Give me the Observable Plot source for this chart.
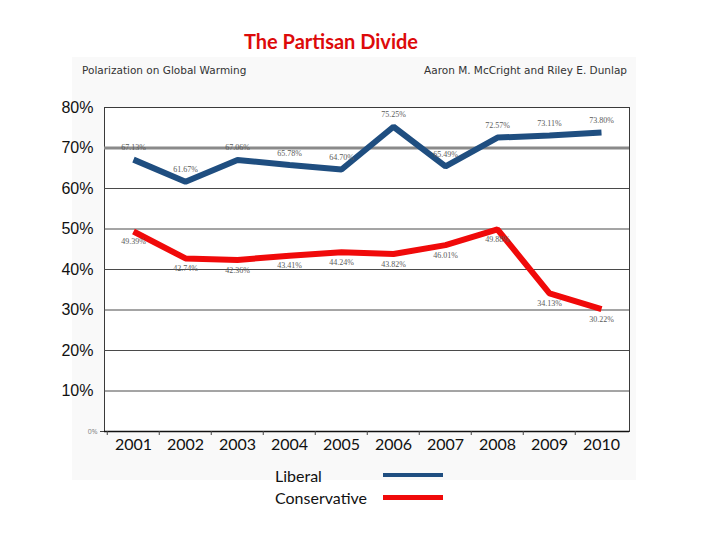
<!DOCTYPE html>
<html>
<head>
<meta charset="utf-8">
<script src="https://cdn.jsdelivr.net/npm/d3@7"></script>
<script src="https://cdn.jsdelivr.net/npm/@observablehq/plot@0.6"></script>
<style>
  html, body { margin: 0; padding: 0; background: #fff; }
  #slide { position: relative; width: 720px; height: 540px; overflow: hidden; background: #fff; }
  #panel { position: absolute; left: 72px; top: 57px; width: 564px; height: 423px; background: #f9f9f9; }
  #chart { position: absolute; left: 0; top: 0; }
  #title { position: absolute; left: 0; width: 662px; top: 29px; text-align: center;
           font: bold 20px Lato, "Open Sans", sans-serif; color: #dd0a0a; }
  .sub { position: absolute; top: 64px; font: 10.5px "DejaVu Sans", sans-serif; color: #333; }
  #legend { position: absolute; left: 275px; top: 464px; font: 16px Lato, sans-serif; color: #111; }
  .row { display: flex; align-items: center; height: 22px; }
  .row span { width: 108px; }
  .swatch { width: 60px; }
</style>
</head>
<body>
<div id="slide">
  <div id="panel"></div>
  <div id="chart"></div>
  <div id="title">The Partisan Divide</div>
  <div class="sub" style="left:82px">Polarization on Global Warming</div>
  <div class="sub" style="right:93px">Aaron M. McCright and Riley E. Dunlap</div>
  <div id="legend"></div>
</div>
<script>
// Survey years and the share of each group that believes warming has begun (%)
const years = ["2001", "2002", "2003", "2004", "2005", "2006", "2007", "2008", "2009", "2010"];
const liberal = [67.13, 61.67, 67.06, 65.78, 64.70, 75.25, 65.49, 72.57, 73.11, 73.80];
const conservative = [49.39, 42.74, 42.36, 43.41, 44.24, 43.82, 46.01, 49.88, 34.13, 30.22];
const yTicks = [10, 20, 30, 40, 50, 60, 70, 80];

const series = [
  {name: "Liberal", values: liberal, color: "#1f4e80", dy: -12},
  {name: "Conservative", values: conservative, color: "#f00a0a", dy: 10}
];

const rows = series.flatMap(s => years.map((year, i) => ({year, value: s.values[i], series: s.name})));

const width = 720, height = 540;
const margin = {left: 104, right: 91, top: 107, bottom: 109};
const halfStep = (width - margin.left - margin.right) / years.length / 2;
const pct = d => d.toFixed(2) + "%";

const chart = Plot.plot({
  width, height,
  marginLeft: margin.left, marginRight: margin.right,
  marginTop: margin.top, marginBottom: margin.bottom,
  style: {background: "transparent", overflow: "visible"},
  x: {type: "point", domain: years, padding: 0.5},
  y: {domain: [0, 80]},
  marks: [
    Plot.frame({fill: "white", stroke: "#3a3a3a"}),
    Plot.ruleY(yTicks.filter(t => t !== 70 && t !== 80), {stroke: "#4a4a4a", strokeWidth: 1}),
    Plot.ruleY([70], {stroke: "#8a8a8a", strokeWidth: 3}),
    Plot.ruleY([0], {stroke: "#111", strokeWidth: 1.5}),
    // year labels
    Plot.axisX({tickSize: 0, tickPadding: 7, fontSize: 16, fontFamily: "Lato, sans-serif",
                fill: "#111", label: null}),
    // tick marks between the years
    Plot.axisX({tickSize: 4, text: null, dx: -halfStep, stroke: "#444", label: null}),
    // percentage labels
    Plot.axisY({ticks: yTicks, tickSize: 0, tickPadding: 11, tickFormat: d => d + "%",
                fontSize: 16, fontFamily: "'Liberation Sans', sans-serif", fill: "#111", label: null}),
    Plot.axisY({ticks: [0], tickSize: 4, tickPadding: 3, tickFormat: d => d + "%",
                fontSize: 7, fill: "#888", stroke: "#444", label: null}),
    ...series.map(s => Plot.line(rows.filter(r => r.series === s.name), {
      x: "year", y: "value", stroke: s.color, strokeWidth: 6,
      strokeLinejoin: "miter", strokeLinecap: "butt"
    })),
    ...series.map(s => Plot.text(rows.filter(r => r.series === s.name), {
      x: "year", y: "value", text: d => pct(d.value), dy: s.dy,
      fontSize: 8, fontFamily: "'Liberation Serif', serif", fill: "#5a5a5a"
    }))
  ]
});
document.getElementById("chart").append(chart);

// legend
const legend = document.getElementById("legend");
for (const s of series) {
  const row = document.createElement("div");
  row.className = "row";
  const label = document.createElement("span");
  label.textContent = s.name;
  const swatch = document.createElement("div");
  swatch.className = "swatch";
  swatch.style.height = s.name === "Liberal" ? "4px" : "5px";
  swatch.style.background = s.color;
  row.append(label, swatch);
  legend.append(row);
}
</script>
</body>
</html>
